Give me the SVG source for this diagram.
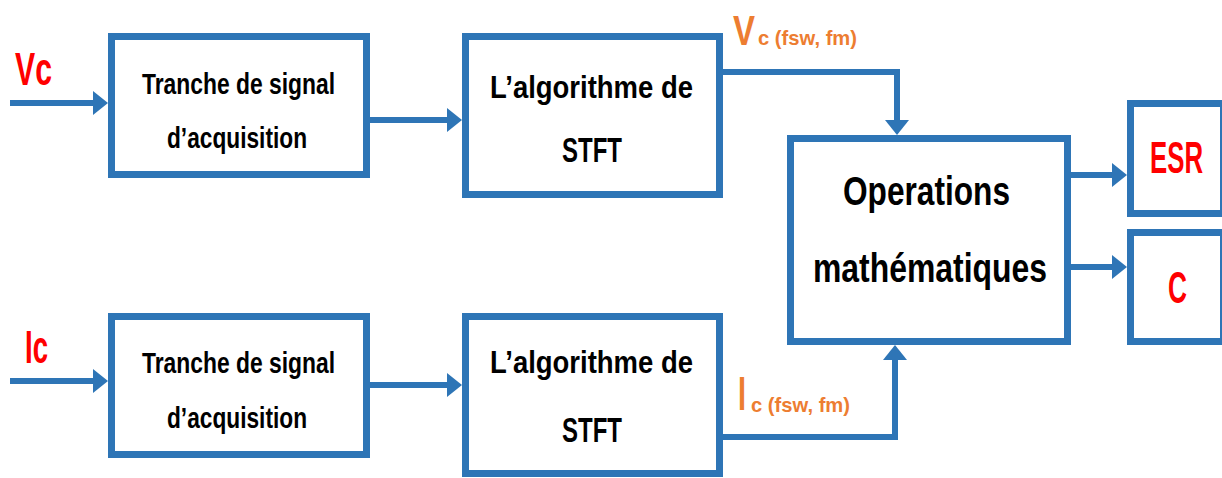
<svg xmlns="http://www.w3.org/2000/svg" width="1222" height="478" viewBox="0 0 1222 478">
  <style>
    .box { fill: #ffffff; stroke: #2E75B6; stroke-width: 7; }
    .conn { fill: none; stroke: #2E75B6; stroke-width: 6; }
    .lbl { font-family: "Liberation Sans", Arial, sans-serif; font-weight: bold; fill: #000000; }
    .red { font-family: "Liberation Sans", Arial, sans-serif; font-weight: bold; fill: #FF0000; }
    .org { font-family: "Liberation Sans", Arial, sans-serif; font-weight: bold; fill: #ED7D31; }
  </style>
  <defs>
    <marker id="arr" viewBox="0 0 15 24" refX="1" refY="12" markerWidth="15" markerHeight="24" markerUnits="userSpaceOnUse" orient="auto">
      <path d="M0,0 L15,12 L0,24 Z" fill="#2E75B6"/>
    </marker>
  </defs>
  <rect width="1222" height="478" fill="#ffffff"/>

  <g id="connectors">
    <path class="conn" d="M10,103 H94" marker-end="url(#arr)"/>
    <path class="conn" d="M370,120 H448" marker-end="url(#arr)"/>
    <path class="conn" d="M10,381 H94" marker-end="url(#arr)"/>
    <path class="conn" d="M370,385 H448" marker-end="url(#arr)"/>
    <path class="conn" d="M723,72 H897 V121" marker-end="url(#arr)"/>
    <path class="conn" d="M723,437 H895 V359" marker-end="url(#arr)"/>
    <path class="conn" d="M1071,175 H1113" marker-end="url(#arr)"/>
    <path class="conn" d="M1071,267 H1113" marker-end="url(#arr)"/>
  </g>

  <g id="label-vc">
    <text class="red" x="15" y="85" font-size="46" textLength="37" lengthAdjust="spacingAndGlyphs">Vc</text>
  </g>
  <g id="label-ic">
    <text class="red" x="25" y="363" font-size="46" textLength="23" lengthAdjust="spacingAndGlyphs">Ic</text>
  </g>

  <g id="acq-top">
    <rect class="box" x="111.5" y="36.5" width="255" height="138"/>
    <text class="lbl" x="142" y="94" font-size="30" textLength="193" lengthAdjust="spacingAndGlyphs">Tranche de signal</text>
    <text class="lbl" x="167" y="148" font-size="30" textLength="140" lengthAdjust="spacingAndGlyphs">d’acquisition</text>
  </g>
  <g id="stft-top">
    <rect class="box" x="465.5" y="36.5" width="254" height="158"/>
    <text class="lbl" x="490" y="98" font-size="31" textLength="203" lengthAdjust="spacingAndGlyphs">L’algorithme de</text>
    <text class="lbl" x="562" y="162" font-size="35" textLength="60" lengthAdjust="spacingAndGlyphs">STFT</text>
  </g>
  <g id="acq-bottom">
    <rect class="box" x="111.5" y="316.5" width="255" height="138"/>
    <text class="lbl" x="142" y="373" font-size="30" textLength="193" lengthAdjust="spacingAndGlyphs">Tranche de signal</text>
    <text class="lbl" x="167" y="428" font-size="30" textLength="140" lengthAdjust="spacingAndGlyphs">d’acquisition</text>
  </g>
  <g id="stft-bottom">
    <rect class="box" x="465.5" y="316.5" width="254" height="157"/>
    <text class="lbl" x="490" y="373" font-size="31" textLength="203" lengthAdjust="spacingAndGlyphs">L’algorithme de</text>
    <text class="lbl" x="562" y="442" font-size="35" textLength="60" lengthAdjust="spacingAndGlyphs">STFT</text>
  </g>

  <g id="label-vc-fsw">
    <text class="org"><tspan x="733" y="45" font-size="42" textLength="22" lengthAdjust="spacingAndGlyphs">V</tspan><tspan x="758" y="45" font-size="21" textLength="99" lengthAdjust="spacingAndGlyphs">c (fsw, fm)</tspan></text>
  </g>
  <g id="label-ic-fsw">
    <text class="org"><tspan x="738" y="410" font-size="48" textLength="8" lengthAdjust="spacingAndGlyphs">I</tspan><tspan x="751" y="412" font-size="21" textLength="99" lengthAdjust="spacingAndGlyphs">c (fsw, fm)</tspan></text>
  </g>

  <g id="operations">
    <rect class="box" x="790.5" y="138.5" width="277" height="203"/>
    <text class="lbl" x="843" y="205" font-size="41" textLength="167" lengthAdjust="spacingAndGlyphs">Operations</text>
    <text class="lbl" x="813" y="282" font-size="41" textLength="234" lengthAdjust="spacingAndGlyphs">mathématiques</text>
  </g>
  <g id="esr">
    <rect class="box" x="1130.5" y="103.5" width="93" height="110"/>
    <text class="red" transform="translate(1150,173) scale(0.586,1)" x="0" y="0" font-size="44">ESR</text>
  </g>
  <g id="c">
    <rect class="box" x="1130.5" y="232.5" width="93" height="109"/>
    <text class="red" x="1168" y="303" font-size="44" textLength="19" lengthAdjust="spacingAndGlyphs">C</text>
  </g>
</svg>
